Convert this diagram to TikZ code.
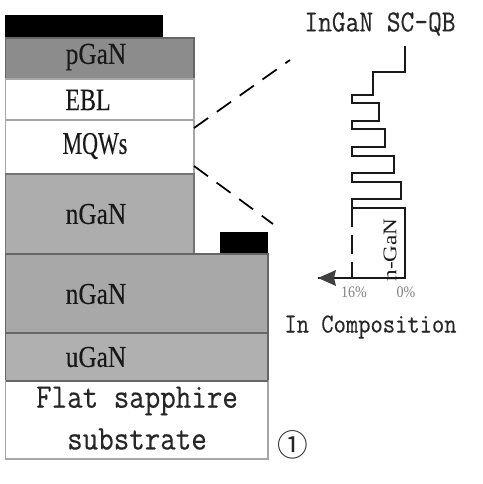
\documentclass[tikz,border=0pt]{standalone}
\usepackage{fontspec}
\setmainfont[FakeBold=0.3]{Liberation Serif}
\newfontfamily\mfont[FakeBold=0.35]{Latin Modern Mono}
\newfontfamily\symfont{Noto Sans CJK SC}
\newfontfamily\plainserif{Liberation Serif}
\begin{document}
\begin{tikzpicture}[x=0.75pt,y=-0.75pt,
  layer/.style={draw=#1,line width=0.9pt,inner sep=0pt},
  lab/.style={inner sep=0pt,text=black!90,yscale=1.2},
  mono/.style={inner sep=0pt,text=black!85,yscale=1.15},
  zoomline/.style={draw=black,line width=1.3pt,dash pattern=on 13pt off 8pt},
  profile/.style={draw=black!90,line width=1.3pt},
  small/.style={inner sep=0pt,text=black!50,font=\plainserif\fontsize{10.5}{12}\selectfont,yscale=1.15}]
\useasboundingbox (0,0) rectangle (482,484);
% layers
\fill[black] (5,15) rectangle (163,37);
\fill[black] (220,232) rectangle (268,254);
\filldraw[layer=black!60,fill=black!45] (5.5,38) rectangle (194,79);
\filldraw[layer=black!35,fill=white] (5.5,79) rectangle (194,120);
\filldraw[layer=black!35,fill=white] (5.5,120) rectangle (194,174);
\filldraw[layer=black!55,fill=black!32] (5.5,174) rectangle (194,254);
\filldraw[layer=black!60,fill=black!34] (5.5,254) rectangle (268,333);
\filldraw[layer=black!60,fill=black!31] (5.5,333) rectangle (268,381);
\filldraw[layer=black!35,fill=white] (5.5,381) rectangle (268,459);
\draw[black!60,line width=0.9pt] (5.5,381) -- (268,381);
% layer labels
\node[lab,font=\fontsize{19}{22}\selectfont] (p) at (96,57) {pGaN};
\node[lab,yscale=1.08,font=\fontsize{18}{22}\selectfont] (ebl) at (88,100) {EBL};
\node[lab,yscale=1.2,font=\fontsize{16.5}{20}\selectfont] (mqw) at (95,146) {MQWs};
\node[lab,font=\fontsize{19}{22}\selectfont] (n1) at (96,214) {nGaN};
\node[lab,font=\fontsize{19}{22}\selectfont] (n2) at (96,294) {nGaN};
\node[lab,font=\fontsize{19}{22}\selectfont] (u) at (96,357) {uGaN};
\node[mono,font=\mfont\fontsize{22.6}{26}\selectfont] (sub1) at (137,401) {Flat sapphire};
\node[mono,font=\mfont\fontsize{22.6}{26}\selectfont] (sub2) at (137,439) {substrate};
\node[inner sep=0pt,font=\symfont\fontsize{23}{26}\selectfont,text=black!85] (num) at (293,445) {①};
% zoom lines
\coordinate (mt) at (194,128);
\coordinate (mb) at (194,166);
\coordinate (zt) at (290,60);
\coordinate (zb) at (273,224);
\draw[zoomline] (mt) -- (zt);
\draw[zoomline] (mb) -- (zb);
% profile
\node[mono,font=\mfont\fontsize{20}{24}\selectfont] (title) at (380,24) {InGaN SC-QB};
\coordinate (s) at (405,46);
\coordinate (c) at (405,278);
\coordinate (d) at (352.3,278);
\coordinate (dt) at (352.3,208.3);
\coordinate (tip) at (318,278);
\draw[profile,line join=miter] (s) -- (405,72) -- (372.7,72) -- (372.7,95) -- (352.3,95) -- (352.3,103.3)
  -- (378.7,103.3) -- (378.7,120.7) -- (352.3,120.7) -- (352.3,129.3)
  -- (385,129.3) -- (385,146.7) -- (352.3,146.7) -- (352.3,155.7)
  -- (394.3,155.7) -- (394.3,173.3) -- (352.3,173.3) -- (352.3,182)
  -- (400.7,182) -- (400.7,199.3) -- (352.3,199.3) -- (dt)
  -- (405,208.3) -- (c) -- (tip);
\draw[profile,dash pattern=on 14pt off 6pt] (dt) -- (d);
\fill[black!75] (tip) -- (336,270) -- (334,278) -- (336,286) -- cycle;
\node[lab,rotate=90,yscale=1,font=\plainserif\fontsize{14.5}{17}\selectfont] (ng) at (390,250) {n-GaN};
\node[small] (p16) at (354,292) {16\%};
\node[small] (p0) at (406,292) {0\%};
\node[mono,font=\mfont\fontsize{17.9}{22}\selectfont] (comp) at (370.5,327) {In Composition};
\end{tikzpicture}
\end{document}
